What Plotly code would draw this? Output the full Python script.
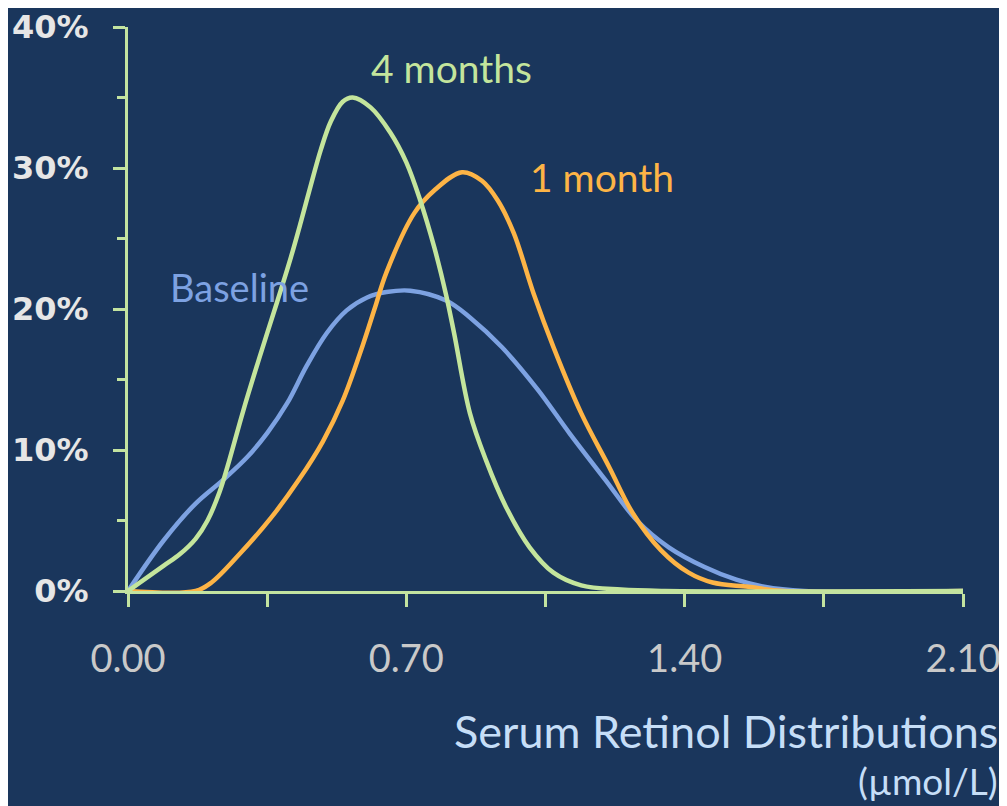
import plotly.graph_objects as go

# ---- data ----
baseline_x = [0.00, 0.09, 0.17, 0.24, 0.30, 0.35, 0.40, 0.45, 0.50, 0.55, 0.60, 0.65, 0.71,
              0.80, 0.86, 0.94, 1.03, 1.11, 1.20, 1.28, 1.36, 1.45, 1.53, 1.60, 1.70, 2.10]
baseline_y = [0.0, 3.6, 6.2, 7.9, 9.5, 11.2, 13.3, 16.0, 18.3, 19.9, 20.8, 21.2, 21.3,
              20.6, 19.4, 17.3, 14.3, 11.2, 7.9, 5.0, 3.1, 1.7, 0.8, 0.3, 0.0, 0.0]

m1_x = [0.00, 0.17, 0.21, 0.28, 0.36, 0.43, 0.49, 0.54, 0.59, 0.62, 0.65, 0.72, 0.77, 0.84,
        0.89, 0.93, 0.97, 1.02, 1.07, 1.14, 1.21, 1.27, 1.34, 1.41, 1.47, 1.56, 1.65, 2.10]
m1_y = [0.0, 0.0, 0.6, 2.6, 5.2, 7.9, 10.6, 13.5, 17.4, 20.0, 22.6, 26.8, 28.4, 29.7,
        29.1, 27.7, 25.4, 21.1, 17.3, 12.6, 8.8, 5.5, 2.9, 1.3, 0.6, 0.3, 0.0, 0.0]

m4_x = [0.00, 0.09, 0.13, 0.17, 0.20, 0.23, 0.25, 0.29, 0.33, 0.375, 0.41, 0.435, 0.46, 0.485,
        0.51, 0.54, 0.565, 0.61, 0.66, 0.70, 0.735, 0.77, 0.80, 0.82, 0.86, 0.90, 0.95, 1.01,
        1.07, 1.14, 1.24, 1.35, 2.10]
m4_y = [0.0, 1.8, 2.6, 3.7, 5.0, 7.0, 8.8, 12.8, 16.5, 20.5, 23.7, 26.2, 28.8, 31.3,
        33.3, 34.7, 35.0, 34.3, 32.5, 30.4, 27.7, 24.4, 21.0, 18.3, 12.6, 9.3, 6.0, 3.1,
        1.3, 0.4, 0.1, 0.0, 0.0]

x_tickvals = [0.00, 0.35, 0.70, 1.05, 1.40, 1.75, 2.10]
x_ticktext = ["0.00", "", "0.70", "", "1.40", "", "2.10"]
y_tickvals = [0.0, 0.1, 0.2, 0.3, 0.4]
y_ticktext = ["0%", "10%", "20%", "30%", "40%"]
y_minor_vals = [0.05, 0.15, 0.25, 0.35]

BG = "#1a365c"
AXIS = "#c3e3a0"
GREEN = "#c4e59c"
ORANGE = "#fdb446"
BLUE = "#7da2e2"
TITLE_C = "#c6def7"
FONT = "Lato"

fig = go.Figure()
for xs, ys, col in [(baseline_x, baseline_y, BLUE), (m1_x, m1_y, ORANGE), (m4_x, m4_y, GREEN)]:
    fig.add_trace(go.Scatter(
        x=xs, y=[v / 100 for v in ys], mode="lines",
        line=dict(color=col, width=4.5, shape="spline", smoothing=1.0),
        showlegend=False, hoverinfo="skip"))

# page body has an 8px margin, so the figure is 8px smaller than the window
W, H = 999, 798
fig.update_layout(
    width=W, height=H,
    paper_bgcolor=BG, plot_bgcolor=BG,
    margin=dict(l=120, r=44, t=19, b=215, autoexpand=False),
    font=dict(family=FONT),
)
fig.update_xaxes(
    range=[0, 2.10], showgrid=False, zeroline=False, automargin=False,
    showline=True, linecolor=AXIS, linewidth=3,
    tickmode="array", tickvals=x_tickvals, ticktext=x_ticktext,
    ticks="outside", ticklen=13, tickwidth=3, tickcolor=AXIS,
    tickfont=dict(size=38, color="#c9c9c9", family=FONT),
    ticklabelstandoff=19,
)
fig.update_yaxes(
    range=[0, 0.40], showgrid=False, zeroline=False, automargin=False,
    showline=True, linecolor=AXIS, linewidth=3,
    tickmode="array", tickvals=y_tickvals, ticktext=y_ticktext,
    ticks="outside", ticklen=12, tickwidth=3, tickcolor=AXIS,
    tickfont=dict(size=32, color="#e6e6e6", family="DejaVu Sans", weight="bold"),
    ticklabelstandoff=18,
    minor=dict(tickvals=y_minor_vals, ticks="outside", ticklen=8,
               tickwidth=3, tickcolor=AXIS, showgrid=False),
)

labels = [
    (451, 68, "4 months", dict(size=39, color=GREEN, family=FONT), "center"),
    (602, 177, "1 month", dict(size=39, color=ORANGE, family=FONT), "center"),
    (239, 287, "Baseline", dict(size=38, color=BLUE, family=FONT), "center"),
    (1000, 731, "Serum Retinol Distributions", dict(size=45, color=TITLE_C, family=FONT), "right"),
    (1000, 780, "(µmol/L)", dict(size=37, color=TITLE_C, family=FONT), "right"),
]
# reference pixel positions -> paper coordinates (plot area 128..963 x 27..591 in window)
pl, pt, pw, ph = 128, 27, 835, 564
for px, py, txt, fnt, xa in labels:
    fig.add_annotation(x=(px - pl) / pw, y=1 - (py - pt) / ph, xref="paper", yref="paper",
                       text=txt, showarrow=False, xanchor=xa, yanchor="middle", font=fnt)

fig.write_html("out.html")
